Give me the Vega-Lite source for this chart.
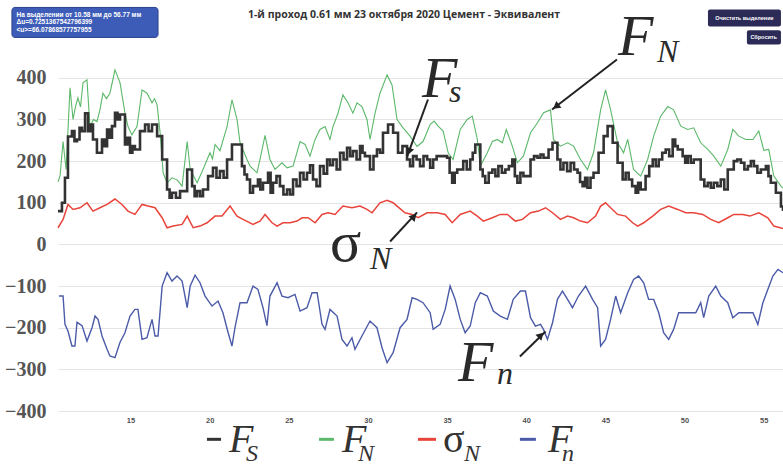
{
 "$schema": "https://vega.github.io/schema/vega-lite/v6.json",
 "width": 725, "height": 354,
 "autosize": "none",
 "padding": {"left": 58, "top": 57, "right": 0, "bottom": 61},
 "background": "white",
 "config": {"view": {"stroke": null}},
 "datasets": {
  "FS": [{"x":10.42,"y":80},{"x":10.67,"y":100},{"x":10.86,"y":160},{"x":11.05,"y":259},{"x":11.3,"y":272},{"x":11.46,"y":248},{"x":11.62,"y":252},{"x":11.78,"y":280},{"x":11.94,"y":272},{"x":12.13,"y":315},{"x":12.32,"y":272},{"x":12.47,"y":288},{"x":12.63,"y":252},{"x":12.88,"y":220},{"x":13.2,"y":252},{"x":13.36,"y":236},{"x":13.52,"y":276},{"x":13.68,"y":256},{"x":13.83,"y":284},{"x":14.02,"y":316},{"x":14.18,"y":300},{"x":14.34,"y":312},{"x":14.65,"y":240},{"x":14.81,"y":256},{"x":14.97,"y":220},{"x":15.12,"y":236},{"x":15.28,"y":228},{"x":15.6,"y":272},{"x":15.92,"y":288},{"x":16.14,"y":272},{"x":16.36,"y":288},{"x":16.68,"y":260},{"x":17.0,"y":204},{"x":17.31,"y":132},{"x":17.47,"y":112},{"x":17.62,"y":124},{"x":17.87,"y":112},{"x":18.13,"y":128},{"x":18.58,"y":180},{"x":18.89,"y":140},{"x":19.05,"y":116},{"x":19.21,"y":128},{"x":19.4,"y":116},{"x":19.58,"y":132},{"x":19.9,"y":164},{"x":20.21,"y":184},{"x":20.43,"y":160},{"x":20.65,"y":176},{"x":20.88,"y":160},{"x":21.1,"y":204},{"x":21.41,"y":240},{"x":21.73,"y":240},{"x":22.04,"y":188},{"x":22.2,"y":168},{"x":22.36,"y":156},{"x":22.55,"y":124},{"x":22.74,"y":140},{"x":23.05,"y":156},{"x":23.2,"y":132},{"x":23.37,"y":148},{"x":23.69,"y":172},{"x":23.85,"y":124},{"x":24.0,"y":148},{"x":24.22,"y":164},{"x":24.44,"y":140},{"x":24.66,"y":120},{"x":24.89,"y":132},{"x":25.08,"y":120},{"x":25.27,"y":156},{"x":25.49,"y":140},{"x":25.71,"y":172},{"x":25.93,"y":156},{"x":26.15,"y":172},{"x":26.34,"y":190},{"x":26.53,"y":156},{"x":26.75,"y":140},{"x":26.97,"y":188},{"x":27.2,"y":170},{"x":27.42,"y":204},{"x":27.6,"y":190},{"x":27.79,"y":204},{"x":28.02,"y":180},{"x":28.24,"y":220},{"x":28.46,"y":204},{"x":28.68,"y":232},{"x":28.87,"y":212},{"x":29.05,"y":224},{"x":29.28,"y":204},{"x":29.5,"y":236},{"x":29.66,"y":220},{"x":29.81,"y":212},{"x":30.13,"y":180},{"x":30.35,"y":212},{"x":30.57,"y":228},{"x":30.76,"y":220},{"x":30.95,"y":268},{"x":31.27,"y":288},{"x":31.59,"y":268},{"x":31.9,"y":220},{"x":32.18,"y":236},{"x":32.47,"y":204},{"x":32.66,"y":188},{"x":32.85,"y":212},{"x":33.07,"y":204},{"x":33.29,"y":188},{"x":33.51,"y":212},{"x":33.74,"y":204},{"x":33.93,"y":184},{"x":34.12,"y":204},{"x":34.34,"y":212},{"x":34.56,"y":212},{"x":35.0,"y":208},{"x":35.16,"y":172},{"x":35.32,"y":148},{"x":35.48,"y":172},{"x":35.64,"y":180},{"x":36.02,"y":200},{"x":36.24,"y":180},{"x":36.46,"y":204},{"x":36.62,"y":220},{"x":36.78,"y":240},{"x":37.1,"y":180},{"x":37.25,"y":164},{"x":37.41,"y":148},{"x":37.63,"y":172},{"x":37.86,"y":180},{"x":38.05,"y":164},{"x":38.24,"y":188},{"x":38.46,"y":172},{"x":38.68,"y":180},{"x":38.9,"y":188},{"x":39.12,"y":204},{"x":39.28,"y":164},{"x":39.44,"y":148},{"x":39.63,"y":172},{"x":39.82,"y":164},{"x":40.27,"y":204},{"x":40.49,"y":212},{"x":40.71,"y":208},{"x":40.9,"y":216},{"x":41.09,"y":208},{"x":41.41,"y":228},{"x":41.66,"y":244},{"x":41.97,"y":204},{"x":42.16,"y":180},{"x":42.35,"y":196},{"x":42.58,"y":176},{"x":42.8,"y":196},{"x":43.02,"y":180},{"x":43.24,"y":172},{"x":43.4,"y":150},{"x":43.56,"y":140},{"x":43.72,"y":160},{"x":43.87,"y":136},{"x":44.06,"y":160},{"x":44.25,"y":172},{"x":44.57,"y":220},{"x":44.89,"y":260},{"x":45.14,"y":284},{"x":45.46,"y":244},{"x":45.77,"y":196},{"x":46.09,"y":156},{"x":46.28,"y":172},{"x":46.47,"y":156},{"x":46.69,"y":140},{"x":46.91,"y":124},{"x":47.07,"y":148},{"x":47.23,"y":132},{"x":47.54,"y":164},{"x":47.77,"y":188},{"x":47.99,"y":204},{"x":48.18,"y":188},{"x":48.37,"y":204},{"x":48.59,"y":220},{"x":48.81,"y":228},{"x":49.03,"y":212},{"x":49.25,"y":252},{"x":49.41,"y":236},{"x":49.57,"y":228},{"x":49.88,"y":212},{"x":50.04,"y":196},{"x":50.2,"y":212},{"x":50.39,"y":196},{"x":50.58,"y":204},{"x":51.02,"y":156},{"x":51.25,"y":140},{"x":51.47,"y":148},{"x":51.66,"y":136},{"x":51.85,"y":148},{"x":52.07,"y":140},{"x":52.29,"y":156},{"x":52.51,"y":132},{"x":52.73,"y":180},{"x":53.11,"y":200},{"x":53.33,"y":204},{"x":53.56,"y":196},{"x":53.78,"y":180},{"x":54.0,"y":188},{"x":54.19,"y":200},{"x":54.38,"y":188},{"x":54.6,"y":172},{"x":54.82,"y":180},{"x":55.14,"y":188},{"x":55.3,"y":164},{"x":55.45,"y":148},{"x":55.77,"y":124},{"x":56.09,"y":91},{"x":56.22,"y":80}],
  "FN": [{"x":10.42,"y":150},{"x":10.55,"y":165},{"x":10.74,"y":247},{"x":10.93,"y":180},{"x":11.18,"y":376},{"x":11.37,"y":300},{"x":11.52,"y":330},{"x":11.68,"y":352},{"x":11.84,"y":330},{"x":12.0,"y":388},{"x":12.25,"y":395},{"x":12.44,"y":283},{"x":12.66,"y":300},{"x":12.88,"y":295},{"x":13.07,"y":323},{"x":13.26,"y":363},{"x":13.48,"y":350},{"x":13.7,"y":363},{"x":14.02,"y":419},{"x":14.34,"y":388},{"x":14.65,"y":316},{"x":14.84,"y":283},{"x":15.09,"y":263},{"x":15.41,"y":283},{"x":15.73,"y":371},{"x":16.04,"y":363},{"x":16.36,"y":340},{"x":16.52,"y":350},{"x":16.68,"y":335},{"x":16.87,"y":268},{"x":17.06,"y":172},{"x":17.31,"y":148},{"x":17.62,"y":160},{"x":17.94,"y":155},{"x":18.26,"y":140},{"x":18.58,"y":247},{"x":18.77,"y":180},{"x":19.21,"y":148},{"x":19.58,"y":180},{"x":20.02,"y":220},{"x":20.18,"y":205},{"x":20.34,"y":240},{"x":20.65,"y":225},{"x":21.1,"y":283},{"x":21.41,"y":347},{"x":21.73,"y":300},{"x":21.92,"y":244},{"x":22.36,"y":204},{"x":22.55,"y":188},{"x":22.99,"y":172},{"x":23.18,"y":204},{"x":23.5,"y":262},{"x":23.81,"y":204},{"x":24.13,"y":180},{"x":24.57,"y":196},{"x":24.89,"y":184},{"x":25.27,"y":188},{"x":25.71,"y":247},{"x":26.03,"y":240},{"x":26.34,"y":212},{"x":26.66,"y":252},{"x":26.97,"y":276},{"x":27.29,"y":283},{"x":27.6,"y":252},{"x":27.79,"y":283},{"x":28.11,"y":315},{"x":28.42,"y":359},{"x":28.74,"y":340},{"x":29.05,"y":315},{"x":29.31,"y":340},{"x":29.62,"y":331},{"x":29.94,"y":300},{"x":30.13,"y":252},{"x":30.45,"y":315},{"x":30.76,"y":363},{"x":31.21,"y":407},{"x":31.52,"y":383},{"x":31.84,"y":300},{"x":32.22,"y":280},{"x":32.66,"y":260},{"x":33.1,"y":235},{"x":33.48,"y":247},{"x":33.93,"y":288},{"x":34.18,"y":296},{"x":34.43,"y":284},{"x":34.75,"y":272},{"x":35.07,"y":220},{"x":35.38,"y":204},{"x":35.83,"y":276},{"x":36.27,"y":300},{"x":36.59,"y":308},{"x":36.91,"y":252},{"x":37.1,"y":188},{"x":37.54,"y":220},{"x":37.86,"y":247},{"x":38.17,"y":252},{"x":38.49,"y":244},{"x":38.74,"y":276},{"x":39.12,"y":236},{"x":39.44,"y":196},{"x":39.82,"y":212},{"x":40.27,"y":268},{"x":40.49,"y":280},{"x":40.71,"y":292},{"x":41.09,"y":316},{"x":41.53,"y":323},{"x":41.72,"y":252},{"x":42.16,"y":236},{"x":42.61,"y":244},{"x":42.99,"y":236},{"x":43.43,"y":204},{"x":43.87,"y":180},{"x":44.25,"y":220},{"x":44.7,"y":323},{"x":45.01,"y":371},{"x":45.33,"y":323},{"x":45.77,"y":244},{"x":46.15,"y":220},{"x":46.41,"y":252},{"x":46.78,"y":180},{"x":47.23,"y":164},{"x":47.67,"y":204},{"x":48.05,"y":260},{"x":48.49,"y":308},{"x":48.94,"y":331},{"x":49.31,"y":323},{"x":49.76,"y":284},{"x":50.2,"y":276},{"x":50.58,"y":280},{"x":51.02,"y":244},{"x":51.47,"y":228},{"x":51.85,"y":212},{"x":52.29,"y":188},{"x":52.73,"y":228},{"x":53.05,"y":276},{"x":53.43,"y":260},{"x":53.87,"y":252},{"x":54.32,"y":252},{"x":54.69,"y":272},{"x":55.01,"y":226},{"x":55.32,"y":228},{"x":55.64,"y":164},{"x":56.09,"y":140},{"x":56.22,"y":135}],
  "SN": [{"x":10.42,"y":40},{"x":10.74,"y":60},{"x":11.05,"y":96},{"x":11.37,"y":84},{"x":11.81,"y":88},{"x":12.25,"y":100},{"x":12.63,"y":80},{"x":13.07,"y":88},{"x":13.52,"y":96},{"x":14.02,"y":109},{"x":14.46,"y":96},{"x":14.84,"y":80},{"x":15.28,"y":72},{"x":15.73,"y":96},{"x":16.11,"y":92},{"x":16.55,"y":88},{"x":17.0,"y":64},{"x":17.31,"y":40},{"x":17.69,"y":44},{"x":18.26,"y":48},{"x":18.58,"y":68},{"x":18.96,"y":40},{"x":19.39,"y":44},{"x":19.84,"y":52},{"x":20.34,"y":68},{"x":20.78,"y":68},{"x":21.29,"y":92},{"x":21.73,"y":68},{"x":22.11,"y":60},{"x":22.74,"y":48},{"x":23.18,"y":56},{"x":23.5,"y":72},{"x":23.94,"y":52},{"x":24.26,"y":44},{"x":24.63,"y":52},{"x":25.08,"y":52},{"x":25.52,"y":56},{"x":25.84,"y":64},{"x":26.22,"y":64},{"x":26.66,"y":52},{"x":27.1,"y":72},{"x":27.48,"y":76},{"x":27.92,"y":72},{"x":28.42,"y":92},{"x":28.99,"y":88},{"x":29.5,"y":92},{"x":29.94,"y":84},{"x":30.26,"y":76},{"x":30.76,"y":100},{"x":31.21,"y":106},{"x":31.59,"y":100},{"x":31.84,"y":92},{"x":32.34,"y":76},{"x":32.79,"y":72},{"x":33.17,"y":64},{"x":33.74,"y":76},{"x":34.37,"y":76},{"x":34.88,"y":72},{"x":35.32,"y":52},{"x":35.83,"y":72},{"x":36.46,"y":80},{"x":36.91,"y":68},{"x":37.29,"y":56},{"x":37.86,"y":64},{"x":38.36,"y":72},{"x":38.81,"y":72},{"x":39.31,"y":56},{"x":39.76,"y":60},{"x":40.27,"y":76},{"x":40.77,"y":80},{"x":41.22,"y":88},{"x":41.66,"y":76},{"x":42.16,"y":60},{"x":42.61,"y":68},{"x":42.99,"y":64},{"x":43.43,"y":56},{"x":43.87,"y":52},{"x":44.38,"y":68},{"x":44.7,"y":92},{"x":45.01,"y":100},{"x":45.33,"y":88},{"x":45.77,"y":72},{"x":46.28,"y":68},{"x":46.72,"y":52},{"x":47.04,"y":44},{"x":47.42,"y":52},{"x":47.99,"y":68},{"x":48.49,"y":84},{"x":49.0,"y":92},{"x":49.57,"y":84},{"x":50.07,"y":76},{"x":50.58,"y":76},{"x":51.15,"y":72},{"x":51.66,"y":60},{"x":52.16,"y":52},{"x":52.73,"y":64},{"x":53.11,"y":72},{"x":53.68,"y":72},{"x":54.13,"y":68},{"x":54.69,"y":76},{"x":55.26,"y":64},{"x":55.64,"y":44},{"x":56.22,"y":38}],
  "Fn": [{"x":10.48,"y":-124},{"x":10.74,"y":-124},{"x":10.86,"y":-192},{"x":11.05,"y":-208},{"x":11.3,"y":-244},{"x":11.49,"y":-244},{"x":11.62,"y":-187},{"x":11.94,"y":-195},{"x":12.25,"y":-232},{"x":12.57,"y":-200},{"x":12.76,"y":-172},{"x":12.95,"y":-180},{"x":13.2,"y":-220},{"x":13.52,"y":-252},{"x":13.7,"y":-268},{"x":14.02,"y":-272},{"x":14.34,"y":-235},{"x":14.65,"y":-212},{"x":14.97,"y":-172},{"x":15.28,"y":-156},{"x":15.47,"y":-156},{"x":15.73,"y":-228},{"x":16.04,"y":-224},{"x":16.36,"y":-180},{"x":16.55,"y":-220},{"x":16.74,"y":-220},{"x":17.0,"y":-100},{"x":17.31,"y":-68},{"x":17.62,"y":-88},{"x":17.94,"y":-76},{"x":18.26,"y":-88},{"x":18.58,"y":-152},{"x":18.77,"y":-100},{"x":19.08,"y":-74},{"x":19.39,"y":-92},{"x":19.71,"y":-124},{"x":20.15,"y":-148},{"x":20.53,"y":-136},{"x":20.84,"y":-164},{"x":21.16,"y":-211},{"x":21.41,"y":-244},{"x":21.6,"y":-200},{"x":21.92,"y":-140},{"x":22.36,"y":-140},{"x":22.74,"y":-100},{"x":23.05,"y":-108},{"x":23.37,"y":-152},{"x":23.62,"y":-195},{"x":23.81,"y":-124},{"x":24.26,"y":-92},{"x":24.57,"y":-124},{"x":24.95,"y":-128},{"x":25.39,"y":-120},{"x":25.71,"y":-160},{"x":26.15,"y":-152},{"x":26.47,"y":-116},{"x":26.79,"y":-116},{"x":27.1,"y":-192},{"x":27.29,"y":-204},{"x":27.6,"y":-156},{"x":28.05,"y":-172},{"x":28.36,"y":-228},{"x":28.68,"y":-244},{"x":28.99,"y":-224},{"x":29.18,"y":-252},{"x":29.62,"y":-220},{"x":30.13,"y":-184},{"x":30.57,"y":-200},{"x":30.89,"y":-248},{"x":31.21,"y":-284},{"x":31.59,"y":-260},{"x":32.03,"y":-200},{"x":32.47,"y":-180},{"x":32.79,"y":-128},{"x":33.1,"y":-132},{"x":33.48,"y":-140},{"x":33.93,"y":-164},{"x":34.12,"y":-204},{"x":34.56,"y":-192},{"x":34.88,"y":-156},{"x":35.19,"y":-100},{"x":35.51,"y":-132},{"x":35.83,"y":-180},{"x":36.14,"y":-212},{"x":36.46,"y":-196},{"x":36.78,"y":-140},{"x":37.1,"y":-116},{"x":37.54,"y":-124},{"x":37.92,"y":-160},{"x":38.36,"y":-172},{"x":38.81,"y":-180},{"x":39.18,"y":-132},{"x":39.63,"y":-112},{"x":39.95,"y":-112},{"x":40.27,"y":-176},{"x":40.58,"y":-196},{"x":40.9,"y":-192},{"x":41.09,"y":-204},{"x":41.34,"y":-228},{"x":41.66,"y":-188},{"x":41.97,"y":-132},{"x":42.29,"y":-112},{"x":42.61,"y":-132},{"x":42.92,"y":-152},{"x":43.3,"y":-124},{"x":43.75,"y":-100},{"x":44.19,"y":-132},{"x":44.51,"y":-152},{"x":44.7,"y":-244},{"x":45.01,"y":-228},{"x":45.33,"y":-180},{"x":45.65,"y":-124},{"x":45.96,"y":-164},{"x":46.41,"y":-116},{"x":46.78,"y":-84},{"x":47.1,"y":-76},{"x":47.42,"y":-92},{"x":47.73,"y":-132},{"x":48.05,"y":-132},{"x":48.37,"y":-164},{"x":48.68,"y":-212},{"x":49.0,"y":-228},{"x":49.31,"y":-204},{"x":49.63,"y":-164},{"x":50.2,"y":-164},{"x":50.71,"y":-164},{"x":51.02,"y":-140},{"x":51.21,"y":-176},{"x":51.53,"y":-124},{"x":51.97,"y":-100},{"x":52.29,"y":-124},{"x":52.73,"y":-140},{"x":53.05,"y":-176},{"x":53.43,"y":-164},{"x":53.87,"y":-164},{"x":54.32,"y":-164},{"x":54.63,"y":-192},{"x":54.95,"y":-140},{"x":55.26,"y":-108},{"x":55.58,"y":-76},{"x":55.9,"y":-60},{"x":56.22,"y":-68}],
  "arr": [{"x":45.73,"y":444,"x2":41.63,"y2":324},{"x":33.79,"y":348,"x2":32.47,"y2":211},{"x":31.4,"y":7,"x2":33.1,"y2":77},{"x":39.6,"y":-269,"x2":41.22,"y2":-209}],
  "head": [{"x":41.88,"y":331,"a":232},{"x":32.59,"y":223,"a":200},{"x":32.91,"y":67,"a":43},{"x":40.93,"y":-218,"a":45}],
  "bigF": [{"x":45.79,"y":456,"t":"F"},{"x":33.41,"y":355,"t":"F"},{"x":35.69,"y":-329,"t":"F"}],
  "bigSig": [{"x":27.6,"y":-41,"t":"σ"}],
  "bigSub": [{"x":48.26,"y":437,"t":"N"},{"x":35.12,"y":341,"t":"s"},{"x":30.13,"y":-60,"t":"N"},{"x":38.15,"y":-334,"t":"n"}],
  "legDash": [{"s":"FS","x":19.83,"x2":20.72,"y":-468},{"s":"FN","x":26.91,"x2":27.85,"y":-468},{"s":"SN","x":33.16,"x2":34.3,"y":-468},{"s":"Fn","x":39.6,"x2":40.61,"y":-468}],
  "legF": [{"x":21.22,"y":-499,"t":"F"},{"x":28.36,"y":-499,"t":"F"},{"x":41.37,"y":-499,"t":"F"}],
  "legSig": [{"x":34.74,"y":-499,"t":"σ"}],
  "legSub": [{"x":22.3,"y":-521,"t":"S"},{"x":29.37,"y":-521,"t":"N"},{"x":36.07,"y":-521,"t":"N"},{"x":42.26,"y":-521,"t":"n"}],
  "title": [{"x":32.28,"y":550,"t":"1-й проход 0.61 мм 23 октября 2020 Цемент - Эквивалент"}],
  "box": [{"x":7.51,"x2":16.74,"y":569,"y2":497}],
  "boxText": [{"x":7.8,"y":552,"t":"На выделении от 10.58 мм до 56.77 мм"},{"x":7.8,"y":533,"t":"Δu=0.7251367542796399"},{"x":7.8,"y":514,"t":"<u>=66.07868577757955"}],
  "btn": [{"x":51.48,"x2":56.09,"y":564,"y2":523,"t":"Очистить выделение","tx":53.78,"ty":543},{"x":53.94,"x2":56.09,"y":514,"y2":480,"t":"Сбросить","tx":55.0,"ty":497}]
 },
 "encoding": {
  "x": {"field": "x", "type": "quantitative", "scale": {"domain": [10.42, 56.22], "nice": false, "zero": false},
        "axis": {"values": [15,20,25,30,35,40,45,50,55], "format": "d", "grid": false, "domain": false, "ticks": false, "labelFont": "Liberation Sans", "labelFontSize": 7.5, "labelFontWeight": "bold", "labelColor": "#444", "labelOpacity": 0.95, "labelPadding": 5, "title": null}},
  "y": {"field": "y", "type": "quantitative", "scale": {"domain": [-400, 450], "nice": false, "zero": false},
        "axis": {"values": [-400,-300,-200,-100,0,100,200,300,400], "grid": true, "gridColor": "#e4e4e4", "domain": false, "ticks": false, "labelFont": "Liberation Serif", "labelFontSize": 20, "labelFontWeight": "bold", "labelColor": "#555", "labelPadding": 12, "title": null}}
 },
 "layer": [
  {"data": {"name": "FN"}, "mark": {"type": "line", "strokeWidth": 1.1}, "encoding": {"color": {"datum": "FN", "scale": {"domain": ["FS","FN","SN","Fn"], "range": ["#333333","#5cb86a","#e8443a","#4b5ba8"]}, "legend": null}}},
  {"data": {"name": "FS"}, "mark": {"type": "line", "strokeWidth": 2.6, "interpolate": "step-after"}, "encoding": {"color": {"datum": "FS"}}},
  {"data": {"name": "SN"}, "mark": {"type": "line", "strokeWidth": 1.5}, "encoding": {"color": {"datum": "SN"}}},
  {"data": {"name": "Fn"}, "mark": {"type": "line", "strokeWidth": 1.4}, "encoding": {"color": {"datum": "Fn"}}},
  {"data": {"name": "arr"}, "mark": {"type": "rule", "strokeWidth": 2, "color": "#222"}, "encoding": {"x2": {"field": "x2"}, "y2": {"field": "y2"}}},
  {"data": {"name": "head"}, "mark": {"type": "point", "shape": "triangle-up", "filled": true, "size": 70, "color": "#222", "opacity": 1}, "encoding": {"angle": {"field": "a", "type": "quantitative", "scale": null}}},
  {"data": {"name": "bigF"}, "mark": {"type": "text", "font": "Liberation Serif", "fontStyle": "italic", "fontSize": 58, "align": "left", "baseline": "alphabetic", "color": "#2a2a2a"}, "encoding": {"text": {"field": "t"}}},
  {"data": {"name": "bigSig"}, "mark": {"type": "text", "font": "Liberation Serif", "fontSize": 58, "align": "left", "baseline": "alphabetic", "color": "#2a2a2a"}, "encoding": {"text": {"field": "t"}}},
  {"data": {"name": "bigSub"}, "mark": {"type": "text", "font": "Liberation Serif", "fontStyle": "italic", "fontSize": 32, "align": "left", "baseline": "alphabetic", "color": "#2a2a2a"}, "encoding": {"text": {"field": "t"}}},
  {"data": {"name": "legDash"}, "mark": {"type": "rule", "strokeWidth": 3}, "encoding": {"x2": {"field": "x2"}, "color": {"field": "s", "type": "nominal", "legend": null}}},
  {"data": {"name": "legF"}, "mark": {"type": "text", "font": "Liberation Serif", "fontStyle": "italic", "fontSize": 40, "align": "left", "baseline": "alphabetic", "color": "#333"}, "encoding": {"text": {"field": "t"}}},
  {"data": {"name": "legSig"}, "mark": {"type": "text", "font": "Liberation Serif", "fontSize": 40, "align": "left", "baseline": "alphabetic", "color": "#333"}, "encoding": {"text": {"field": "t"}}},
  {"data": {"name": "legSub"}, "mark": {"type": "text", "font": "Liberation Serif", "fontStyle": "italic", "fontSize": 24, "align": "left", "baseline": "alphabetic", "color": "#333"}, "encoding": {"text": {"field": "t"}}},
  {"data": {"name": "title"}, "mark": {"type": "text", "font": "Open Sans", "fontSize": 10.5, "fontWeight": "bold", "align": "center", "baseline": "middle", "color": "#333"}, "encoding": {"text": {"field": "t"}}},
  {"data": {"name": "box"}, "mark": {"type": "rect", "fill": "#3d5cb8", "stroke": "#2b428c", "strokeWidth": 1, "cornerRadius": 3}, "encoding": {"x2": {"field": "x2"}, "y2": {"field": "y2"}}},
  {"data": {"name": "boxText"}, "mark": {"type": "text", "font": "Liberation Sans", "fontSize": 6.5, "fontWeight": "bold", "align": "left", "baseline": "middle", "color": "white"}, "encoding": {"text": {"field": "t"}}},
  {"data": {"name": "btn"}, "mark": {"type": "rect", "fill": "#2c2b57", "cornerRadius": 2}, "encoding": {"x2": {"field": "x2"}, "y2": {"field": "y2"}}},
  {"data": {"name": "btn"}, "mark": {"type": "text", "font": "Liberation Sans", "fontSize": 5.5, "fontWeight": "bold", "align": "center", "baseline": "middle", "color": "white"}, "encoding": {"x": {"field": "tx", "type": "quantitative"}, "y": {"field": "ty", "type": "quantitative"}, "text": {"field": "t"}}}
 ]
}
